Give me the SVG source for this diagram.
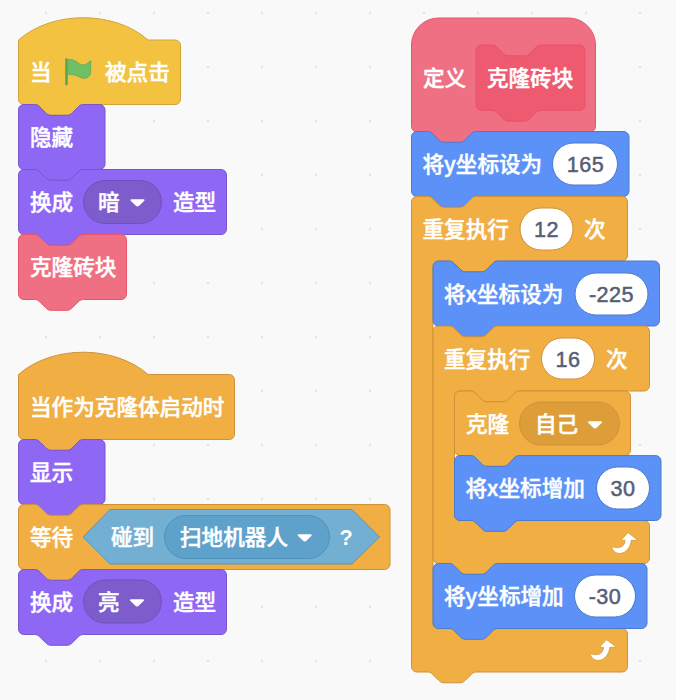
<svg xmlns="http://www.w3.org/2000/svg" width="676" height="700" viewBox="0 0 676 700">
<style>
.b{stroke-width:1;stroke-linejoin:round}
.pu{fill:#8F67F5;stroke:#7B55CC}
.ye{fill:#F3C241;stroke:#D1A33B}
.or{fill:#F1AE42;stroke:#CF9239}
.re{fill:#EF7083;stroke:#E8526B}
.bl{fill:#5C92F7;stroke:#4C7ACB}
.t{font-family:"Noto Sans CJK SC","Liberation Sans",sans-serif;font-size:21.6px;font-weight:500;fill:#fff;stroke:#fff;stroke-width:.45px}
.n{font-family:"Liberation Sans",Arial,sans-serif;font-size:21.6px;letter-spacing:.5px;fill:#575E75;stroke:#575E75;stroke-width:.5px;text-anchor:middle}
.q{font-family:"Liberation Sans",Arial,sans-serif;font-size:21.6px;font-weight:700;fill:#fff;text-anchor:middle}
.w{fill:#fff}
</style>
<defs>
<pattern id="dots" x="0" y="0" width="54" height="54" patternUnits="userSpaceOnUse" patternTransform="translate(19 -14)">
<circle cx="27" cy="27" r="1.3" fill="#E3E3E3"/>
</pattern>
<path id="caret" d="M-6 -3.700h12c.9 0 1.300 .9 .8 1.500l-4.900 4.700c-1.400 1.200-2.400 1.200-3.800 0l-4.900-4.700c-.5-.6-.1-1.500 .8-1.500z" fill="#fff"/>
<path id="repeat" d="M16 0L24.500 6.500Q24.800 7.300 24 7.300H18.700C18.500 13 14 20.500 7 20.500C3.500 20.500 .5 18-.5 15Q-.6 13.600 .8 14C4 15.300 12.500 15.500 12.500 7.300H10Q8.700 7.300 9.300 6.300L15 .3Q15.500-.2 16 0Z" fill="#fff" stroke="#CF9239" stroke-width=".7"/>
</defs>
<rect width="676" height="700" fill="#F9F9F9"/>
<rect width="676" height="700" fill="url(#dots)"/>
<g id="connectors"></g>

<g id="hat-flag">
<path class="b ye" d="M18.500 40c33.750-29.700 95.850-29.700 129.600 0H175.100a5.400 5.400 0 0 1 5.400 5.400V99.100a5.400 5.400 0 0 1-5.400 5.400H83.300c-2.700 0-4 1.350-5.400 2.700l-5.400 5.400c-1.350 1.350-2.700 2.700-5.400 2.700h-16.200c-2.700 0-4-1.350-5.400-2.700l-5.400-5.400c-1.350-1.350-2.700-2.700-5.400-2.700H23.900a5.400 5.400 0 0 1-5.400-5.400z"/>
<text class="t" x="30" y="80">当</text>
<rect x="65.200" y="58.300" width="2.600" height="27" rx="1" fill="#5AA552"/>
<path d="M67.700 60c4-1.500 7.500 .5 12 4c3 1.800 7 1 11-3.500V73c-1 3.500-3.500 5.300-6 5.300c-5 0-8-4.300-17-4z" fill="#70BF64" stroke="#5DA855" stroke-width=".8"/>
<text class="t" x="105" y="80">被点击</text>
</g>
<g id="hide1">
<path class="b pu" d="M18.500 109.900a5.400 5.400 0 0 1 5.400-5.400H34.700c2.700 0 4 1.350 5.400 2.700l5.400 5.400c1.350 1.350 2.700 2.700 5.400 2.700h16.200c2.700 0 4-1.350 5.400-2.700l5.400-5.400c1.350-1.350 2.700-2.700 5.400-2.700H99.600a5.400 5.400 0 0 1 5.400 5.400V164.100a5.400 5.400 0 0 1-5.400 5.400H83.300c-2.700 0-4 1.350-5.400 2.700l-5.400 5.400c-1.350 1.350-2.700 2.700-5.400 2.700h-16.200c-2.700 0-4-1.350-5.400-2.700l-5.400-5.400c-1.350-1.350-2.700-2.700-5.400-2.700H23.900a5.400 5.400 0 0 1-5.400-5.400z"/>
<text class="t" x="30" y="145">隐藏</text>
</g>
<g id="costume-dark">
<path class="b pu" d="M18.500 174.900a5.400 5.400 0 0 1 5.400-5.400H34.700c2.700 0 4 1.350 5.400 2.700l5.400 5.400c1.350 1.350 2.700 2.700 5.400 2.700h16.200c2.700 0 4-1.350 5.400-2.700l5.400-5.400c1.350-1.350 2.700-2.700 5.400-2.700H221.100a5.400 5.400 0 0 1 5.400 5.400V229.100a5.400 5.400 0 0 1-5.400 5.400H83.300c-2.700 0-4 1.350-5.400 2.700l-5.400 5.400c-1.350 1.350-2.700 2.700-5.400 2.700h-16.200c-2.700 0-4-1.350-5.400-2.700l-5.400-5.400c-1.350-1.350-2.700-2.700-5.400-2.700H23.900a5.400 5.400 0 0 1-5.400-5.400z"/>
<text class="t" x="30" y="210">换成</text>
<rect x="83.500" y="180.500" width="78" height="43" rx="21.500" fill="#7D5CCB" stroke="#7350BD"/>
<text class="t" x="98" y="210">暗</text>
<use href="#caret" x="137.500" y="203"/>
<text class="t" x="173" y="210">造型</text>
</g>
<g id="call-clone">
<path class="b re" d="M18.500 239.900a5.400 5.400 0 0 1 5.400-5.400H34.700c2.700 0 4 1.350 5.400 2.700l5.400 5.400c1.350 1.350 2.700 2.700 5.400 2.700h16.200c2.700 0 4-1.350 5.400-2.700l5.400-5.400c1.350-1.350 2.700-2.700 5.400-2.700H121.100a5.400 5.400 0 0 1 5.400 5.400V294.100a5.400 5.400 0 0 1-5.400 5.400H83.300c-2.700 0-4 1.350-5.400 2.700l-5.400 5.400c-1.350 1.350-2.700 2.700-5.400 2.700h-16.200c-2.700 0-4-1.350-5.400-2.700l-5.400-5.400c-1.350-1.350-2.700-2.700-5.400-2.700H23.900a5.400 5.400 0 0 1-5.400-5.400z"/>
<text class="t" x="30" y="275">克隆砖块</text>
</g>

<g id="hat-clone">
<path class="b or" d="M18.500 374.500c33.750-29.700 95.850-29.700 129.600 0H229.100a5.400 5.400 0 0 1 5.400 5.400V434.100a5.400 5.400 0 0 1-5.400 5.400H83.300c-2.700 0-4 1.350-5.400 2.700l-5.400 5.400c-1.350 1.350-2.700 2.700-5.400 2.700h-16.200c-2.700 0-4-1.350-5.400-2.700l-5.400-5.400c-1.350-1.350-2.700-2.700-5.400-2.700H23.900a5.400 5.400 0 0 1-5.400-5.400z"/>
<text class="t" x="30" y="415">当作为克隆体启动时</text>
</g>
<g id="show">
<path class="b pu" d="M18.500 444.900a5.400 5.400 0 0 1 5.400-5.400H34.700c2.700 0 4 1.350 5.400 2.700l5.400 5.400c1.350 1.350 2.700 2.700 5.400 2.700h16.200c2.700 0 4-1.350 5.400-2.700l5.400-5.400c1.350-1.350 2.700-2.700 5.400-2.700H99.600a5.400 5.400 0 0 1 5.400 5.400V499.100a5.400 5.400 0 0 1-5.400 5.400H83.300c-2.700 0-4 1.350-5.400 2.700l-5.400 5.400c-1.350 1.350-2.700 2.700-5.400 2.700h-16.200c-2.700 0-4-1.350-5.400-2.700l-5.400-5.400c-1.350-1.350-2.700-2.700-5.400-2.700H23.900a5.400 5.400 0 0 1-5.400-5.400z"/>
<text class="t" x="30" y="480">显示</text>
</g>
<g id="wait-until">
<path class="b or" d="M18.500 509.900a5.400 5.400 0 0 1 5.400-5.400H34.700c2.700 0 4 1.350 5.400 2.700l5.400 5.400c1.350 1.350 2.700 2.700 5.400 2.700h16.200c2.700 0 4-1.350 5.400-2.700l5.400-5.400c1.350-1.350 2.700-2.700 5.400-2.700H384.600a5.400 5.400 0 0 1 5.400 5.400V564.100a5.400 5.400 0 0 1-5.400 5.400H83.300c-2.700 0-4 1.350-5.400 2.700l-5.400 5.400c-1.350 1.350-2.700 2.700-5.400 2.700h-16.200c-2.700 0-4-1.350-5.400-2.700l-5.400-5.400c-1.350-1.350-2.700-2.700-5.400-2.700H23.900a5.400 5.400 0 0 1-5.400-5.400z"/>
<text class="t" x="30" y="545">等待</text>
<path d="M83 537L110 509.500H352L379.500 537L352 564H110Z" fill="#72AFD3" stroke="#5A96BE" stroke-linejoin="round"/>
<text class="t" x="111" y="545">碰到</text>
<rect x="164.500" y="515.500" width="165" height="43" rx="21.500" fill="#5EA1CB" stroke="#5092BB"/>
<text class="t" x="180" y="545">扫地机器人</text>
<use href="#caret" x="304.700" y="538"/>
<text class="q" x="346" y="545">?</text>
</g>
<g id="costume-light">
<path class="b pu" d="M18.500 574.900a5.400 5.400 0 0 1 5.400-5.400H34.700c2.700 0 4 1.350 5.400 2.700l5.400 5.400c1.350 1.350 2.700 2.700 5.400 2.700h16.200c2.700 0 4-1.350 5.400-2.700l5.400-5.400c1.350-1.350 2.700-2.700 5.400-2.700H221.100a5.400 5.400 0 0 1 5.400 5.400V629.100a5.400 5.400 0 0 1-5.400 5.400H83.300c-2.700 0-4 1.350-5.400 2.700l-5.400 5.400c-1.350 1.350-2.700 2.700-5.400 2.700h-16.200c-2.700 0-4-1.350-5.400-2.700l-5.400-5.400c-1.350-1.350-2.700-2.700-5.400-2.700H23.900a5.400 5.400 0 0 1-5.400-5.400z"/>
<text class="t" x="30" y="610">换成</text>
<rect x="83.500" y="580" width="78" height="43" rx="21.500" fill="#7D5CCB" stroke="#7350BD"/>
<text class="t" x="98" y="610">亮</text>
<use href="#caret" x="137" y="603"/>
<text class="t" x="173" y="610">造型</text>
</g>

<g id="define">
<path class="b re" d="M411.500 45a27 27 0 0 1 27-27H568.500a27 27 0 0 1 27 27V126.500a5.400 5.400 0 0 1-5.400 5.400H476.300c-2.700 0-4 1.350-5.400 2.700l-5.400 5.400c-1.350 1.350-2.700 2.700-5.400 2.700h-16.200c-2.700 0-4-1.350-5.400-2.700l-5.400-5.400c-1.350-1.350-2.700-2.700-5.400-2.700H416.900a5.400 5.400 0 0 1-5.400-5.400z"/>
<text class="t" x="423" y="86">定义</text>
<path d="M476 50.400a5.400 5.400 0 0 1 5.400-5.400H492.200c2.700 0 4 1.350 5.400 2.700l5.400 5.400c1.350 1.350 2.700 2.700 5.400 2.700h16.200c2.700 0 4-1.350 5.400-2.700l5.400-5.400c1.350-1.350 2.700-2.700 5.400-2.700H579.600a5.400 5.400 0 0 1 5.400 5.400V105a5.400 5.400 0 0 1-5.400 5.400H540.800c-2.700 0-4 1.350-5.400 2.700l-5.400 5.400c-1.350 1.350-2.700 2.700-5.400 2.700h-16.200c-2.700 0-4-1.350-5.400-2.700l-5.400-5.400c-1.350-1.350-2.700-2.700-5.400-2.700H481.400a5.400 5.400 0 0 1-5.400-5.400z" fill="#EE5A6F" stroke="#E8526B"/>
<text class="t" x="487" y="86">克隆砖块</text>
</g>
<g id="set-y">
<path class="b bl" d="M411.500 136.900a5.400 5.400 0 0 1 5.400-5.400H427.700c2.700 0 4 1.350 5.400 2.700l5.400 5.400c1.350 1.350 2.700 2.700 5.400 2.700h16.200c2.700 0 4-1.350 5.400-2.700l5.400-5.400c1.350-1.350 2.700-2.700 5.400-2.700H623.600a5.400 5.400 0 0 1 5.400 5.400V191.100a5.400 5.400 0 0 1-5.400 5.400H476.300c-2.700 0-4 1.350-5.400 2.700l-5.400 5.400c-1.350 1.350-2.700 2.700-5.400 2.700h-16.200c-2.700 0-4-1.350-5.400-2.700l-5.400-5.400c-1.350-1.350-2.700-2.700-5.400-2.700H416.900a5.400 5.400 0 0 1-5.400-5.400z"/>
<text class="t" x="422.500" y="172">将y坐标设为</text>
<rect x="552.500" y="143" width="65" height="42" rx="21" class="w" stroke="#4C7ACB"/>
<text class="n" x="585.500" y="172">165</text>
</g>
<g id="repeat-12">
<path class="b or" d="M411.500 201.900a5.400 5.400 0 0 1 5.400-5.400H427.700c2.700 0 4 1.350 5.400 2.700l5.400 5.400c1.350 1.350 2.700 2.700 5.400 2.700h16.200c2.700 0 4-1.350 5.400-2.700l5.400-5.400c1.350-1.350 2.700-2.700 5.400-2.700H622.100a5.400 5.400 0 0 1 5.400 5.400V255.600a5.400 5.400 0 0 1-5.400 5.400H497.800c-2.700 0-4 1.350-5.400 2.700l-5.400 5.400c-1.350 1.350-2.700 2.700-5.400 2.700h-16.200c-2.700 0-4-1.350-5.400-2.700l-5.400-5.400c-1.350-1.350-2.700-2.700-5.400-2.700H438.400a5.400 5.400 0 0 0-5.400 5.400V623.100a5.400 5.400 0 0 0 5.400 5.400H622.100a5.400 5.400 0 0 1 5.400 5.400V666.600a5.400 5.400 0 0 1-5.400 5.400H476.300c-2.700 0-4 1.350-5.400 2.700l-5.400 5.400c-1.350 1.350-2.700 2.700-5.400 2.700h-16.200c-2.700 0-4-1.350-5.400-2.700l-5.400-5.400c-1.350-1.350-2.700-2.700-5.400-2.700H416.900a5.400 5.400 0 0 1-5.400-5.400z"/>
<text class="t" x="422.500" y="237">重复执行</text>
<rect x="520" y="208" width="53" height="42" rx="21" class="w" stroke="#CF9239"/>
<text class="n" x="546.500" y="237">12</text>
<text class="t" x="584" y="237">次</text>
<use href="#repeat" x="591" y="640"/>
</g>
<g id="set-x">
<path class="b bl" d="M433 266.400a5.400 5.400 0 0 1 5.400-5.400H449.200c2.700 0 4 1.350 5.400 2.700l5.400 5.400c1.350 1.350 2.700 2.700 5.400 2.700h16.200c2.700 0 4-1.350 5.400-2.700l5.400-5.400c1.350-1.350 2.700-2.700 5.400-2.700H654.100a5.400 5.400 0 0 1 5.400 5.400V320.600a5.400 5.400 0 0 1-5.400 5.400H497.800c-2.700 0-4 1.350-5.400 2.700l-5.400 5.400c-1.350 1.350-2.700 2.700-5.400 2.700h-16.200c-2.700 0-4-1.350-5.400-2.700l-5.400-5.400c-1.350-1.350-2.700-2.700-5.400-2.700H438.400a5.400 5.400 0 0 1-5.400-5.400z"/>
<text class="t" x="444" y="302">将x坐标设为</text>
<rect x="575" y="273" width="73" height="42" rx="21" class="w" stroke="#4C7ACB"/>
<text class="n" x="611.500" y="302">-225</text>
</g>
<g id="repeat-16">
<path class="b or" d="M433 331.400a5.400 5.400 0 0 1 5.400-5.400H449.200c2.700 0 4 1.350 5.400 2.700l5.400 5.400c1.350 1.350 2.700 2.700 5.400 2.700h16.200c2.700 0 4-1.350 5.400-2.700l5.400-5.400c1.350-1.350 2.700-2.700 5.400-2.700H644.100a5.400 5.400 0 0 1 5.400 5.400V385.600a5.400 5.400 0 0 1-5.400 5.400H519.300c-2.700 0-4 1.350-5.400 2.700l-5.400 5.400c-1.350 1.350-2.700 2.700-5.400 2.700h-16.200c-2.700 0-4-1.350-5.400-2.700l-5.400-5.400c-1.350-1.350-2.700-2.700-5.400-2.700H459.900a5.400 5.400 0 0 0-5.400 5.400V515.100a5.400 5.400 0 0 0 5.400 5.400H644.100a5.400 5.400 0 0 1 5.400 5.400V558.100a5.400 5.400 0 0 1-5.400 5.400H497.800c-2.700 0-4 1.350-5.400 2.700l-5.400 5.400c-1.350 1.350-2.700 2.700-5.400 2.700h-16.200c-2.700 0-4-1.350-5.400-2.700l-5.400-5.400c-1.350-1.350-2.700-2.700-5.400-2.700H438.400a5.400 5.400 0 0 1-5.400-5.400z"/>
<text class="t" x="444" y="367">重复执行</text>
<rect x="541.500" y="338" width="53" height="41" rx="20.500" class="w" stroke="#CF9239"/>
<text class="n" x="568" y="367">16</text>
<text class="t" x="606" y="367">次</text>
<use href="#repeat" x="612.500" y="533"/>
</g>
<g id="clone-self">
<path class="b or" d="M454.500 396.400a5.400 5.400 0 0 1 5.400-5.400H470.700c2.700 0 4 1.350 5.400 2.700l5.400 5.400c1.350 1.350 2.700 2.700 5.400 2.700h16.200c2.700 0 4-1.350 5.400-2.700l5.400-5.400c1.350-1.350 2.700-2.700 5.400-2.700H625.100a5.400 5.400 0 0 1 5.400 5.400V450.100a5.400 5.400 0 0 1-5.400 5.400H519.300c-2.700 0-4 1.350-5.400 2.700l-5.400 5.400c-1.350 1.350-2.700 2.700-5.400 2.700h-16.200c-2.700 0-4-1.350-5.400-2.700l-5.400-5.400c-1.350-1.350-2.700-2.700-5.400-2.700H459.900a5.400 5.400 0 0 1-5.400-5.400z"/>
<text class="t" x="466" y="432">克隆</text>
<rect x="519.500" y="402" width="100" height="43" rx="21.500" fill="#DD9D38" stroke="#CF9239"/>
<text class="t" x="535" y="432">自己</text>
<use href="#caret" x="595" y="425"/>
</g>
<g id="change-x">
<path class="b bl" d="M454.500 461a5.400 5.400 0 0 1 5.400-5.400H470.700c2.700 0 4 1.350 5.400 2.700l5.400 5.400c1.350 1.350 2.700 2.700 5.400 2.700h16.200c2.700 0 4-1.350 5.400-2.700l5.400-5.400c1.350-1.350 2.700-2.700 5.400-2.700H655.600a5.400 5.400 0 0 1 5.400 5.400V515.100a5.400 5.400 0 0 1-5.400 5.400H519.300c-2.700 0-4 1.350-5.400 2.700l-5.400 5.400c-1.350 1.350-2.700 2.700-5.400 2.700h-16.200c-2.700 0-4-1.350-5.400-2.700l-5.400-5.400c-1.350-1.350-2.700-2.700-5.400-2.700H459.900a5.400 5.400 0 0 1-5.400-5.400z"/>
<text class="t" x="465.500" y="496">将x坐标增加</text>
<rect x="596.500" y="467" width="53" height="42" rx="21" class="w" stroke="#4C7ACB"/>
<text class="n" x="623" y="496">30</text>
</g>
<g id="change-y">
<path class="b bl" d="M433 568.900a5.400 5.400 0 0 1 5.400-5.400H449.200c2.700 0 4 1.350 5.400 2.700l5.400 5.400c1.350 1.350 2.700 2.700 5.400 2.700h16.200c2.700 0 4-1.350 5.400-2.700l5.400-5.400c1.350-1.350 2.700-2.700 5.400-2.700H641.600a5.400 5.400 0 0 1 5.400 5.400V623.100a5.400 5.400 0 0 1-5.400 5.400H497.800c-2.700 0-4 1.350-5.400 2.700l-5.400 5.400c-1.350 1.350-2.700 2.700-5.400 2.700h-16.200c-2.700 0-4-1.350-5.400-2.700l-5.400-5.400c-1.350-1.350-2.700-2.700-5.400-2.700H438.400a5.400 5.400 0 0 1-5.400-5.400z"/>
<text class="t" x="444" y="604">将y坐标增加</text>
<rect x="574.500" y="575" width="61" height="42" rx="21" class="w" stroke="#4C7ACB"/>
<text class="n" x="605" y="604">-30</text>
</g>
</svg>
